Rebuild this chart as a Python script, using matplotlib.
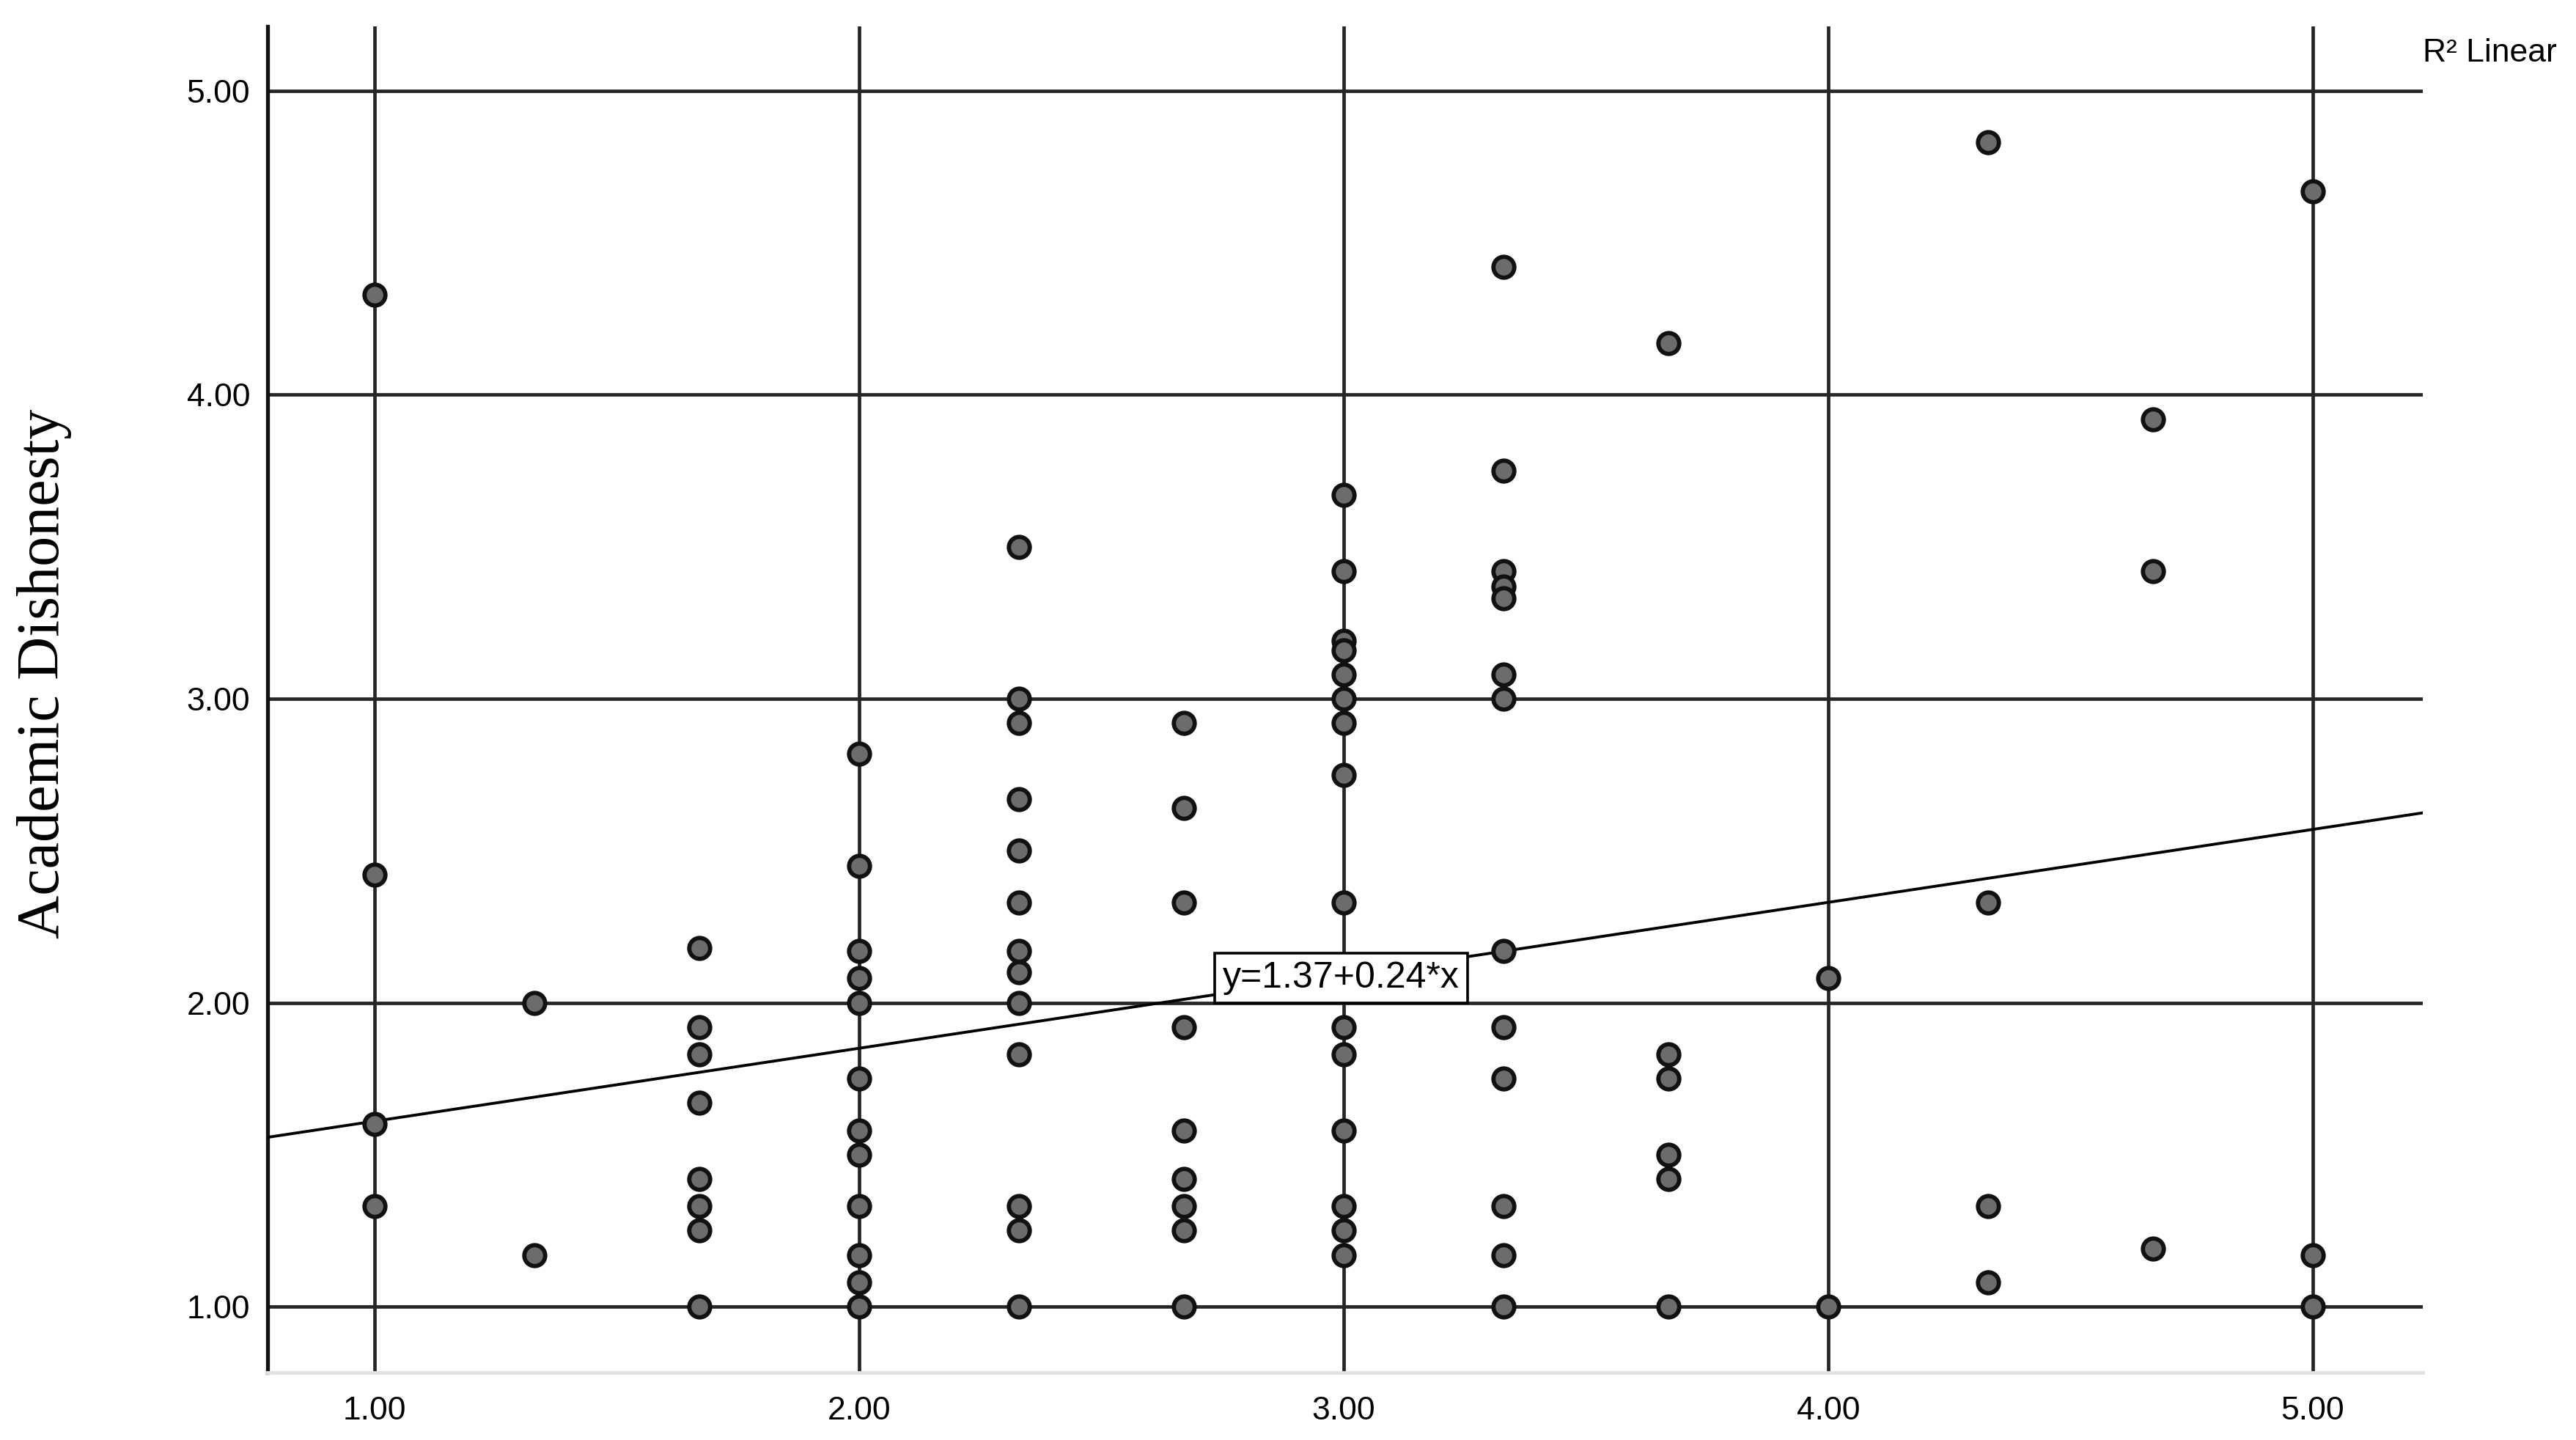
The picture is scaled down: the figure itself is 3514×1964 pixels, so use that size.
import matplotlib
matplotlib.use("Agg")
import matplotlib.pyplot as plt
import numpy as np

# ---- data ----
x_levels = [1.00, 1.33, 1.67, 2.00, 2.33, 2.67, 3.00, 3.33, 3.67, 4.00, 4.33, 4.67, 5.00]
col_100 = [4.33, 2.42, 1.60, 1.33]
col_133 = [2.00, 1.17]
col_167 = [2.18, 1.92, 1.83, 1.67, 1.42, 1.33, 1.25, 1.00]
col_200 = [2.82, 2.45, 2.17, 2.08, 2.00, 1.75, 1.58, 1.50, 1.33, 1.17, 1.08, 1.00]
col_233 = [3.50, 3.00, 2.92, 2.67, 2.50, 2.33, 2.17, 2.10, 2.00, 1.83, 1.33, 1.25, 1.00]
col_267 = [2.92, 2.64, 2.33, 1.92, 1.58, 1.42, 1.33, 1.25, 1.00]
col_300 = [3.67, 3.42, 3.19, 3.16, 3.08, 3.00, 2.92, 2.75, 2.33, 1.92, 1.83, 1.58, 1.33, 1.25, 1.17]
col_333 = [4.42, 3.75, 3.42, 3.37, 3.33, 3.08, 3.00, 2.17, 1.92, 1.75, 1.33, 1.17, 1.00]
col_367 = [4.17, 1.83, 1.75, 1.50, 1.42, 1.00]
col_400 = [2.08, 1.00]
col_433 = [4.83, 2.33, 1.33, 1.08]
col_467 = [3.92, 3.42, 1.19]
col_500 = [4.67, 1.17, 1.00]
columns = [col_100, col_133, col_167, col_200, col_233, col_267, col_300,
           col_333, col_367, col_400, col_433, col_467, col_500]

intercept = 1.37
slope = 0.24
x_ticks = [1, 2, 3, 4, 5]
y_ticks = [1, 2, 3, 4, 5]
x_tick_labels = ["1.00", "2.00", "3.00", "4.00", "5.00"]
y_tick_labels = ["1.00", "2.00", "3.00", "4.00", "5.00"]
y_label = "Academic Dishonesty"
fit_label = "y=1.37+0.24*x"
legend_text = "R² Linear"

xs = []
ys = []
for xv, col in zip(x_levels, columns):
    xs.extend([xv] * len(col))
    ys.extend(col)

# ---- figure ----
W, H, DPI = 3514, 1964, 100
fig = plt.figure(figsize=(W / DPI, H / DPI), dpi=DPI)
ax = fig.add_axes([365 / W, 1 - 1872 / H, (3305 - 365) / W, (1872 - 36) / H])

xmin, xmax = 0.779, 5.227
ymin, ymax = 0.783, 5.212
ax.set_xlim(xmin, xmax)
ax.set_ylim(ymin, ymax)

ax.set_xticks(x_ticks)
ax.set_xticklabels(x_tick_labels)
ax.set_yticks(y_ticks)
ax.set_yticklabels(y_tick_labels)
ax.tick_params(axis="both", length=0, labelsize=32)
ax.tick_params(axis="x", pad=23)
ax.tick_params(axis="y", pad=17)
for lab in ax.get_xticklabels() + ax.get_yticklabels():
    lab.set_fontfamily("Liberation Sans")

ax.grid(True, color="#262626", linewidth=3.4, zorder=1)
ax.set_axisbelow(True)

for s in ["top", "right"]:
    ax.spines[s].set_visible(False)
ax.spines["left"].set_color("#111111")
ax.spines["left"].set_linewidth(3.8)
ax.spines["bottom"].set_color("#e2e2e2")
ax.spines["bottom"].set_linewidth(3.5)

# regression line
lx = np.array([xmin, xmax])
ax.plot(lx, intercept + slope * lx, color="black", linewidth=2.8, zorder=3)

# points
ax.scatter(xs, ys, s=20.5 ** 2, facecolor="#6c6c6c", edgecolor="#111111",
           linewidth=4.2, zorder=4, clip_on=False)

# fit label box
ax.text(2.995, 2.082, fit_label, ha="center", va="center", fontsize=36,
        family="Liberation Sans", zorder=6,
        bbox=dict(boxstyle="square,pad=0.22", facecolor="white",
                  edgecolor="black", linewidth=2.6))

# legend-like text
fig.text(3305 / W, 1 - 72 / H, legend_text, ha="left", va="center",
         fontsize=32, family="Liberation Sans")

# y label
fig.text(60 / W, 1 - 919 / H, y_label, rotation=90, ha="center", va="center",
         fontsize=59, family="Liberation Serif")

fig.savefig("out.png", dpi=DPI)
